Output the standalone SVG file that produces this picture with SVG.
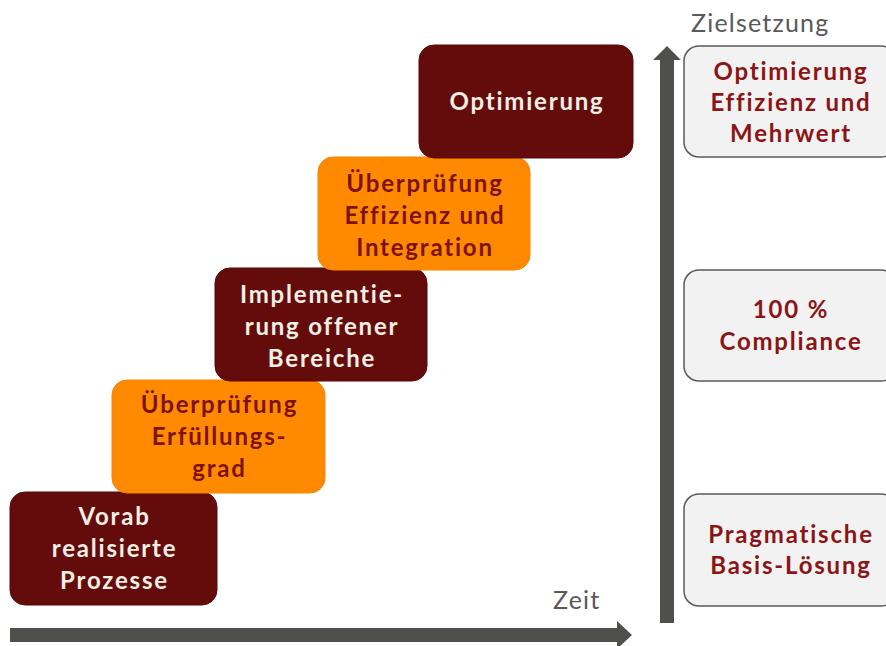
<svg xmlns="http://www.w3.org/2000/svg" width="886" height="646" viewBox="0 0 886 646">
  <style>
    .step text { font-family: Lato, "Open Sans", "Liberation Sans", sans-serif; font-weight: bold; font-size: 24px; letter-spacing: 1.8px; text-anchor: middle; }
    .dark rect { fill: #640c0c; stroke: #5a0909; stroke-width: 1; }
    .dark text { fill: #f3efe4; }
    .light rect { fill: #ff8a00; stroke: #f58400; stroke-width: 1; }
    .light text { fill: #7c1212; }
    .goal rect { fill: #f2f2f2; stroke: #595959; stroke-width: 1.5; }
    .goal text { fill: #8b1515; }
    .axis-label { font-family: Lato, "Open Sans", "Liberation Sans", sans-serif; font-size: 25px; letter-spacing: 1.2px; fill: #595959; }
    .axis { fill: #4f504b; }
  </style>

  <!-- axes -->
  <g id="connectors">
    <path class="axis" d="M10,628 H617 V621 L632,635 L617,649 V642 H10 Z"/>
    <path class="axis" d="M660,623 V60 H653 L667,46 L681,60 H674 V623 Z"/>
  </g>

  <text class="axis-label" x="553" y="609">Zeit</text>
  <text class="axis-label" x="691" y="32">Zielsetzung</text>

  <!-- staircase of steps -->
  <g id="step-vorab" class="step dark">
    <rect x="10" y="492" width="207" height="113" rx="15"/>
    <text x="114.5" y="525">Vorab</text>
    <text x="114.5" y="557">realisierte</text>
    <text x="114.5" y="589">Prozesse</text>
  </g>
  <g id="step-erfuellung" class="step light">
    <rect x="112" y="380" width="213" height="113" rx="15"/>
    <text x="219.5" y="413">Überprüfung</text>
    <text x="219.5" y="445">Erfüllungs-</text>
    <text x="219.5" y="477">grad</text>
  </g>
  <g id="step-implementierung" class="step dark">
    <rect x="215" y="268" width="212" height="113" rx="15"/>
    <text x="322" y="303">Implementie-</text>
    <text x="322" y="335">rung offener</text>
    <text x="322" y="367">Bereiche</text>
  </g>
  <g id="step-integration" class="step light">
    <rect x="318" y="157" width="212" height="113" rx="15"/>
    <text x="425" y="192">Überprüfung</text>
    <text x="425" y="224">Effizienz und</text>
    <text x="425" y="256">Integration</text>
  </g>
  <g id="step-optimierung" class="step dark">
    <rect x="419" y="45" width="214" height="113" rx="15"/>
    <text x="527" y="110">Optimierung</text>
  </g>

  <!-- objectives -->
  <g id="goal-optimierung" class="step goal">
    <rect x="684" y="46" width="212" height="111" rx="15"/>
    <text x="791" y="80">Optimierung</text>
    <text x="791" y="111">Effizienz und</text>
    <text x="791" y="142">Mehrwert</text>
  </g>
  <g id="goal-compliance" class="step goal">
    <rect x="684" y="270" width="212" height="111" rx="15"/>
    <text x="791" y="318">100 %</text>
    <text x="791" y="350">Compliance</text>
  </g>
  <g id="goal-basis" class="step goal">
    <rect x="684" y="494" width="212" height="112" rx="15"/>
    <text x="791" y="543">Pragmatische</text>
    <text x="791" y="574">Basis-Lösung</text>
  </g>
</svg>
